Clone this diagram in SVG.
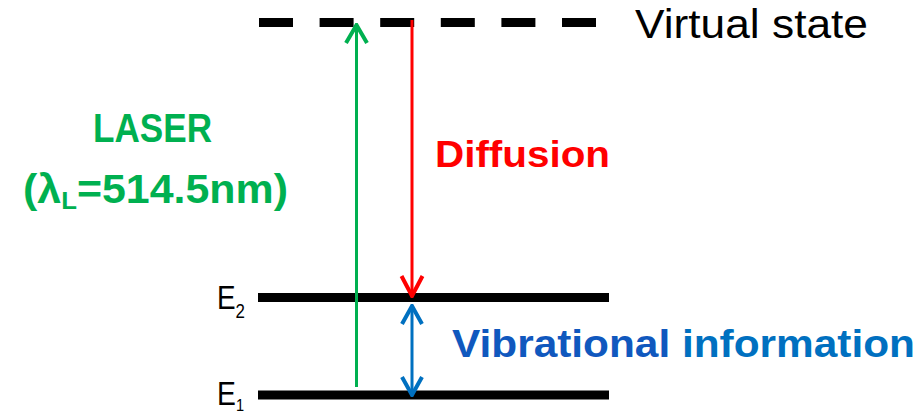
<svg xmlns="http://www.w3.org/2000/svg" width="923" height="414" viewBox="0 0 923 414">
  <style>
    .lvl { stroke: #000; stroke-width: 9; fill: none; }
    .lbl { font-family: "Liberation Sans", Arial, sans-serif; }
    .b { font-weight: bold; }
    .green { fill: #00B050; }
    .red { fill: #FF0000; }
    .conn { fill: none; stroke-width: 3; }
  </style>
  <defs>
    <marker id="headG" markerUnits="userSpaceOnUse" viewBox="-22 -13 24 26" markerWidth="24" markerHeight="26" refX="0" refY="0" orient="auto-start-reverse">
      <path d="M -18 -10.5 L 0 0 L -18 10.5" fill="none" stroke="#00B050" stroke-width="4"/>
    </marker>
    <marker id="headR" markerUnits="userSpaceOnUse" viewBox="-22 -13 24 26" markerWidth="24" markerHeight="26" refX="0" refY="0" orient="auto-start-reverse">
      <path d="M -20 -10.5 L 0 0 L -20 10.5" fill="none" stroke="#FF0000" stroke-width="4"/>
    </marker>
    <marker id="headB" markerUnits="userSpaceOnUse" viewBox="-22 -13 24 26" markerWidth="24" markerHeight="26" refX="0" refY="0" orient="auto-start-reverse">
      <path d="M -18 -10 L 0 0 L -18 10" fill="none" stroke="#0070C0" stroke-width="4"/>
    </marker>
  </defs>

  <g id="virtual-state">
    <line class="lvl" x1="259" y1="22.5" x2="597" y2="22.5" stroke-dasharray="34 26.6"/>
    <text class="lbl" x="635" y="38" font-size="40" textLength="233" lengthAdjust="spacingAndGlyphs" fill="#000">Virtual state</text>
  </g>

  <g id="level-E2">
    <line class="lvl" x1="258" y1="297.5" x2="609" y2="297.5"/>
    <text class="lbl" x="217" y="309" font-size="33" textLength="28" lengthAdjust="spacingAndGlyphs" fill="#000">E<tspan font-size="20" dy="9">2</tspan></text>
  </g>

  <g id="level-E1">
    <line class="lvl" x1="258" y1="395" x2="609" y2="395"/>
    <text class="lbl" x="217" y="405" font-size="33" textLength="27" lengthAdjust="spacingAndGlyphs" fill="#000">E<tspan font-size="17" dy="6">1</tspan></text>
  </g>

  <g id="connectors">
    <line id="laser-arrow" class="conn" x1="356.5" y1="387" x2="356.5" y2="25" stroke="#00B050" marker-end="url(#headG)"/>
    <line id="diffusion-arrow" class="conn" x1="412" y1="20" x2="412" y2="296" stroke="#FF0000" marker-end="url(#headR)"/>
    <line id="vibration-arrow" class="conn" x1="412" y1="306" x2="412" y2="395" stroke="#0070C0" marker-start="url(#headB)" marker-end="url(#headB)"/>
  </g>

  <g id="laser-label">
    <text class="lbl b green" x="93" y="142" font-size="40" textLength="119" lengthAdjust="spacingAndGlyphs">LASER</text>
    <text class="lbl b green" x="23" y="203" font-size="40" textLength="265" lengthAdjust="spacingAndGlyphs">(λ<tspan font-size="24" dy="6">L</tspan><tspan dy="-6">=514.5nm)</tspan></text>
  </g>

  <g id="diffusion-label">
    <text class="lbl b red" x="435" y="167" font-size="37" textLength="175" lengthAdjust="spacingAndGlyphs">Diffusion</text>
  </g>

  <g id="vibration-label">
    <text class="lbl b" x="452" y="357" font-size="38" textLength="463" lengthAdjust="spacingAndGlyphs"><tspan fill="#1058BE">Vibrational</tspan> <tspan fill="#0070C0">information</tspan></text>
  </g>
</svg>
